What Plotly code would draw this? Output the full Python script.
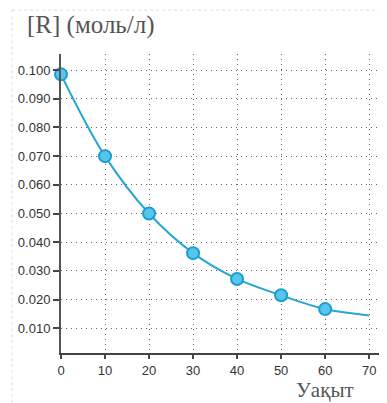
import plotly.graph_objects as go

time_vals = [0, 10, 20, 30, 40, 50, 60, 70]
conc_vals = [0.0985, 0.070, 0.050, 0.0362, 0.0272, 0.0215, 0.0167, 0.0145]
marker_time = [0, 10, 20, 30, 40, 50, 60]
marker_conc = [0.0985, 0.070, 0.050, 0.0362, 0.0272, 0.0215, 0.0167]
y_ticks = [0.010, 0.020, 0.030, 0.040, 0.050, 0.060, 0.070, 0.080, 0.090, 0.100]
x_ticks = [0, 10, 20, 30, 40, 50, 60, 70]

fig = go.Figure()
fig.add_trace(go.Scatter(x=time_vals, y=conc_vals, mode="lines",
                         line=dict(color="#27a6d4", width=2, shape="spline", smoothing=1.0),
                         hoverinfo="skip", cliponaxis=False))
fig.add_trace(go.Scatter(x=marker_time, y=marker_conc, mode="markers",
                         marker=dict(size=12, color="#56c6ec", line=dict(color="#1c9dd0", width=2)),
                         cliponaxis=False))

fig.update_layout(
    width=379, height=395,
    margin=dict(l=53, r=2, t=46, b=50, autoexpand=False),
    paper_bgcolor="white", plot_bgcolor="white",
    showlegend=False,
    font=dict(family="Liberation Sans, Arial, sans-serif", size=12, color="#333"),
    xaxis=dict(range=[0, 73.6], tickvals=x_ticks, ticktext=[str(v) for v in x_ticks],
               automargin=False,
               showgrid=True, gridcolor="#666", griddash="1px,4px", gridwidth=1,
               showline=True, linecolor="#444", linewidth=2,
               ticks="outside", ticklen=4, tickcolor="#444", tickwidth=2,
               zeroline=False, tickfont=dict(size=13, color="#333")),
    yaxis=dict(range=[0.0014, 0.1056], tickvals=y_ticks, tickformat=".3f",
               automargin=False,
               showgrid=True, gridcolor="#666", griddash="1px,4px", gridwidth=1,
               showline=True, linecolor="#555", linewidth=2,
               ticks="outside", ticklen=6, tickcolor="#444", tickwidth=2,
               zeroline=False, tickfont=dict(size=13, color="#333")),
    annotations=[
        dict(text="[R] (моль/л)", xref="paper", yref="paper", x=-0.111, y=1.045,
             xanchor="left", yanchor="bottom", showarrow=False,
             font=dict(family="Liberation Serif, Times New Roman, serif", size=25, color="#555")),
        dict(text="Уақыт", xref="paper", yref="paper", x=0.907, y=-0.167,
             xanchor="right", yanchor="bottom", showarrow=False, borderpad=0,
             font=dict(family="Liberation Serif, Times New Roman, serif", size=21, color="#555")),
    ],
    shapes=[
        dict(type="line", xref="paper", yref="paper", x0=-0.151, x1=-0.151, y0=1.147, y1=-0.2,
             line=dict(color="#ddd", width=1, dash="dot")),
        dict(type="line", xref="paper", yref="paper", x0=-0.151, x1=1.01, y0=1.147, y1=1.147,
             line=dict(color="#ddd", width=1, dash="dot")),
    ],
)

fig.write_html("out.html")
